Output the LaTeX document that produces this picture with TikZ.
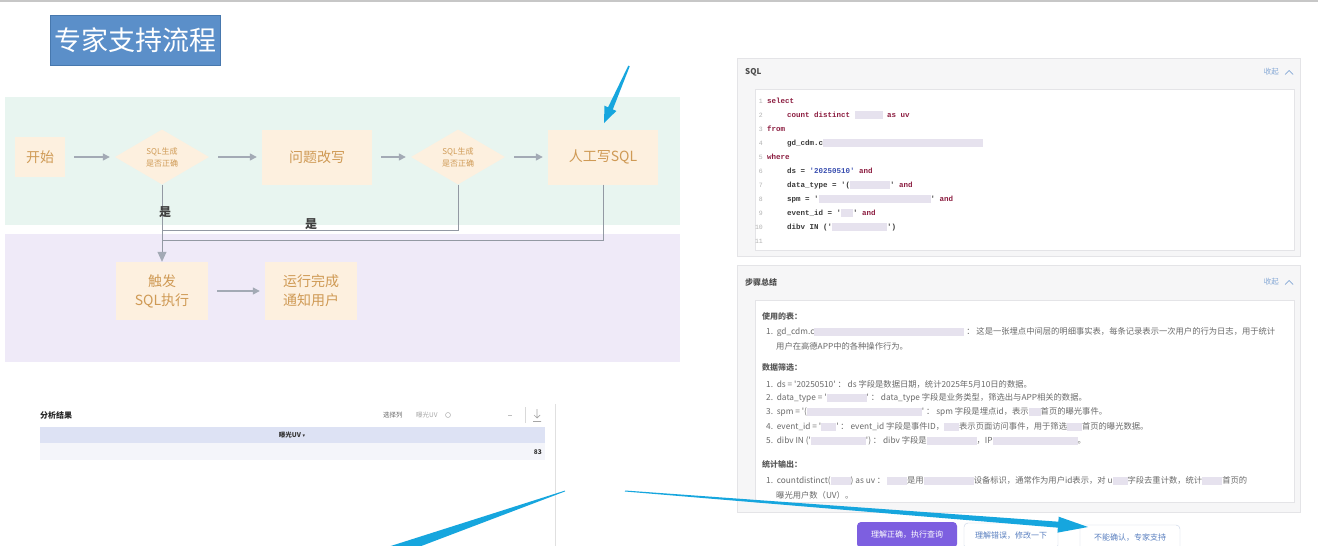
\documentclass[tikz,border=0pt]{standalone}
\usepackage{fontspec}
\newfontfamily\cjk{Noto Sans CJK SC}
\newfontfamily\monof{Liberation Mono}
\newfontfamily\dejavu{DejaVu Sans}
\usetikzlibrary{shapes.geometric,calc,arrows.meta}
\definecolor{bandgreen}{HTML}{E8F5F0}
\definecolor{bandpurple}{HTML}{EFEAF8}
\definecolor{nodefill}{HTML}{FDF0DF}
\definecolor{nodetext}{HTML}{CF9A55}
\definecolor{flowgray}{HTML}{A3AAB5}
\definecolor{titleblue}{HTML}{5B8FC9}
\definecolor{titleborder}{HTML}{4778AE}
\definecolor{arrowblue}{HTML}{16A6DE}
\definecolor{panelgray}{HTML}{F6F6F7}
\definecolor{panelline}{HTML}{E4E4E7}
\definecolor{kw}{HTML}{8C1D40}
\definecolor{codetext}{HTML}{3A3A3A}
\definecolor{strblue}{HTML}{3A4FB0}
\definecolor{blurc}{HTML}{E6E2EE}
\definecolor{sumtext}{HTML}{6A6A6A}
\definecolor{linkblue}{HTML}{86A9D6}
\definecolor{btnpurple}{HTML}{7D5FE0}
\definecolor{btnblue}{HTML}{5A80C0}
\definecolor{btnborder}{HTML}{C8D3E6}
\definecolor{thead}{HTML}{DDE2F4}
\definecolor{trow}{HTML}{F4F5FA}
\newcommand{\blur}[1]{{\color{blurc}\rule[-1.5pt]{#1pt}{8pt}}}
\newcommand{\kwd}[1]{\textcolor{kw}{#1}}
\newcommand{\taperarrow}[7]{%
  \coordinate (#7hb) at ($(#2)!#6!(#1)$);
  \fill[arrowblue] ($(#1)!#3!90:(#2)$) -- ($(#7hb)!#4!-90:(#1)$) -- ($(#7hb)!#5!-90:(#1)$) -- (#2)
    -- ($(#7hb)!#5!90:(#1)$) -- ($(#7hb)!#4!90:(#1)$) -- ($(#1)!#3!-90:(#2)$) -- cycle;}
\tikzset{
  fnode/.style={fill=nodefill, text=nodetext, font=\cjk\fontsize{14}{19}\selectfont, align=center, inner sep=0pt},
  fdia/.style={diamond, aspect=1.7, fill=nodefill, text=nodetext, font=\cjk\fontsize{8}{12}\selectfont, align=center, minimum width=94pt, minimum height=55pt, inner sep=0pt},
  farrow/.style={draw=flowgray, line width=1.3pt, -{Triangle[length=7pt,width=7pt]}, shorten <=9pt, shorten >=5pt},
  fline/.style={draw=flowgray!90!black, line width=0.8pt},
  yes/.style={font=\cjk\bfseries\fontsize{12}{14}\selectfont, text=black!75},
  titlebox/.style={fill=titleblue, draw=titleborder, line width=1pt, text=white, font=\cjk\fontsize{27}{30}\selectfont, minimum width=170pt, minimum height=50pt},
  code/.style={anchor=west, font=\monof\bfseries\fontsize{7.5}{9}\selectfont, text=codetext, inner sep=0pt},
  lnum/.style={anchor=east, font=\monof\fontsize{6.5}{8}\selectfont, text=black!30, inner sep=0pt},
  sum/.style={anchor=west, font=\cjk\fontsize{8.3}{10}\selectfont, text=sumtext, inner sep=0pt},
  sumhead/.style={anchor=west, font=\cjk\bfseries\fontsize{8}{10}\selectfont, text=black!65, inner sep=0pt},
  panelhead/.style={anchor=west, font=\cjk\bfseries\fontsize{8}{10}\selectfont, text=black!70, inner sep=0pt},
  fold/.style={anchor=east, font=\cjk\fontsize{7.5}{9}\selectfont, text=linkblue, inner sep=0pt},
  btn/.style={rounded corners=4pt, minimum height=26pt, font=\cjk\fontsize{8}{10}\selectfont, inner sep=0pt},
  small/.style={font=\cjk\fontsize{6.5}{8}\selectfont, inner sep=0pt},
}
\begin{document}
\begin{tikzpicture}[x=1pt,y=-1pt]
\useasboundingbox (0,0) rectangle (1318,546);
\clip (0,0) rectangle (1318,546);
\fill[white] (0,0) rectangle (1318,546);
\fill[black!22] (0,0) rectangle (1318,1.5);

% ---------- title ----------
\node[titlebox] (title) at (135,40) {专家支持流程};

% ---------- bands ----------
\fill[bandgreen] (5,97) rectangle (680,225);
\fill[bandpurple] (5,234) rectangle (680,362);

% ---------- flow nodes ----------
\node[fnode, minimum width=50pt, minimum height=40pt] (start) at (40,157) {开始};
\node[fdia] (d1) at (162,157) {SQL生成\\是否正确};
\node[fnode, minimum width=110pt, minimum height=55pt] (rewrite) at (317,157) {问题改写};
\node[fdia] (d2) at (458,157) {SQL生成\\是否正确};
\node[fnode, minimum width=110pt, minimum height=55pt] (manual) at (603,157) {人工写SQL};
\node[fnode, minimum width=92pt, minimum height=58pt] (trig) at (162,291) {触发\\SQL执行};
\node[fnode, minimum width=92pt, minimum height=58pt] (done) at (311,291) {运行完成\\通知用户};

\draw[farrow] (start) -- (d1);
\draw[farrow] (d1) -- (rewrite);
\draw[farrow] (rewrite) -- (d2);
\draw[farrow] (d2) -- (manual);
\draw[farrow] (trig) -- (done);

\coordinate (j1) at (162,230);
\coordinate (j2) at (162,240);
\draw[fline] (d2.south) |- (j1);
\draw[fline] (manual.south) |- (j2);
\draw[fline, -{Triangle[length=10pt,width=9pt,color=flowgray]}] (d1.south) -- (trig.north);
\node[yes] (yes1) at (165,212) {是};
\node[yes] (yes2) at (311,224) {是};

% ---------- SQL panel ----------
\filldraw[fill=panelgray, draw=panelline] (737,58) rectangle (1300,256);
\node[panelhead] (sqlh) at (745,72) {SQL};
\node[fold] (fold1) at (1279,72) {收起};
\draw[linkblue, line width=0.7pt] (1285,74.5) -- (1289,70.5) -- (1293,74.5);
\filldraw[fill=white, draw=panelline] (755,89) rectangle (1294,250);
\foreach \n in {1,...,11} {\node[lnum] (ln\n) at (763,{101+14*(\n-1)}) {\n};}
\node[code] (c1) at (767,101) {\kwd{select}};
\node[code] (c2) at (787,115) {\kwd{count distinct} \blur{28} \kwd{as uv}};
\node[code] (c3) at (767,129) {\kwd{from}};
\node[code] (c4) at (787,143) {gd\_cdm.c\blur{160}};
\node[code] (c5) at (767,157) {\kwd{where}};
\node[code] (c6) at (787,171) {ds = \textcolor{strblue}{'20250510'} \kwd{and}};
\node[code] (c7) at (787,185) {data\_type = '(\blur{40}' \kwd{and}};
\node[code] (c8) at (787,199) {spm = '\blur{112}' \kwd{and}};
\node[code] (c9) at (787,213) {event\_id = '\blur{12}' \kwd{and}};
\node[code] (c10) at (787,227) {dibv IN ('\blur{55}')};

% ---------- step summary panel ----------
\filldraw[fill=panelgray, draw=panelline] (737,265) rectangle (1300,512);
\node[panelhead] (sumh) at (745,282) {步骤总结};
\node[fold] (fold2) at (1279,282) {收起};
\draw[linkblue, line width=0.7pt] (1285,284.5) -- (1289,280.5) -- (1293,284.5);
\filldraw[fill=white, draw=panelline] (755,300) rectangle (1294,502);
\node[sumhead] (h1) at (762,316) {使用的表：};
\node[sum] (s1) at (766,332) {1.\ \ gd\_cdm.c\blur{150}\ ：\ 这是一张埋点中间层的明细事实表，每条记录表示一次用户的行为日志，用于统计};
\node[sum] (s1b) at (776,346) {用户在高德APP中的各种操作行为。};
\node[sumhead] (h2) at (762,367) {数据筛选：};
\node[sum] (s2) at (766,384) {1.\ \ ds = '20250510'\ ：\ ds 字段是数据日期，统计2025年5月10日的数据。};
\node[sum] (s3) at (766,398) {2.\ \ data\_type = '\blur{40}'\ ：\ data\_type 字段是业务类型，筛选出与APP相关的数据。};
\node[sum] (s4) at (766,412) {3.\ \ spm = '(\blur{115}'\ ：\ spm 字段是埋点id，表示\blur{12}首页的曝光事件。};
\node[sum] (s5) at (766,427) {4.\ \ event\_id = '\blur{15}'\ ：\ event\_id 字段是事件ID，\blur{15}表示页面访问事件，用于筛选\blur{15}首页的曝光数据。};
\node[sum] (s6) at (766,441) {5.\ \ dibv IN ('\blur{55}')\ ：\ dibv 字段是\blur{50}，IP\blur{85}。};
\node[sumhead] (h3) at (762,464) {统计输出：};
\node[sum] (s7) at (766,481) {1.\ \ countdistinct(\blur{20}) as uv\ ：\ \blur{20}是用\blur{50}设备标识，通常作为用户id表示，对 u\blur{15}字段去重计数，统计\blur{20}首页的};
\node[sum] (s7b) at (776,495) {曝光用户数（UV）。};

% ---------- buttons ----------
\node[btn, fill=btnpurple, text=white, minimum width=100pt] (b1) at (907,535) {理解正确，执行查询};
\node[btn, fill=white, draw=btnborder, text=btnblue, minimum width=94pt] (b2) at (1011,536) {理解错误，修改一下};
\node[btn, fill=white, draw=btnborder, text=btnblue, minimum width=100pt] (b3) at (1130,538) {不能确认，专家支持};

% ---------- analysis result ----------
\draw[black!12, line width=0.8pt] (555,404) -- (555,546);
\node[anchor=west, font=\cjk\bfseries\fontsize{8}{10}\selectfont, text=black!85, inner sep=0pt] (ares) at (40,415) {分析结果};
\node[small, anchor=west, text=black!60] (sel) at (383,415) {选择列};
\node[small, anchor=west, text=black!35] (selv) at (416,415) {曝光UV};
\draw[black!30, line width=0.5pt] (448,415) circle (2.5pt);
\draw[black!25, line width=0.5pt] (508,415) -- (512,415);
\draw[black!15, line width=0.6pt] (525,407) -- (525,423);
\draw[black!35, line width=0.7pt] (537,409) -- (537,418) (534,415) -- (537,418) -- (540,415) (533,421.5) -- (541,421.5);
\fill[thead] (40,427) rectangle (545,443);
\node[small, font=\cjk\bfseries\fontsize{6.5}{8}\selectfont, text=black!80] (th) at (292,435) {曝光UV {\dejavu\fontsize{5}{6}\selectfont ▾}};
\fill[trow] (40,443) rectangle (545,460);
\node[small, anchor=east, font=\cjk\bfseries\fontsize{6.5}{8}\selectfont, text=black!80] (val) at (542,452) {83};

% ---------- blue annotation arrows ----------
\coordinate (a1t) at (629,66);
\coordinate (a1p) at (604,123);
\taperarrow{a1t}{a1p}{0.8pt}{2.6pt}{6.5pt}{16pt}{a1}
\coordinate (a2t) at (625,491);
\coordinate (a2p) at (1088,527);
\taperarrow{a2t}{a2p}{0.5pt}{3pt}{8pt}{30pt}{a2}
\coordinate (a3t) at (565,491);
\coordinate (a3e) at (390,552);
\fill[arrowblue] ($(a3t)!0.4pt!90:(a3e)$) -- ($(a3e)!5.5pt!-90:(a3t)$) -- ($(a3e)!5.5pt!90:(a3t)$) -- ($(a3t)!0.4pt!-90:(a3e)$) -- cycle;
\end{tikzpicture}
\end{document}
